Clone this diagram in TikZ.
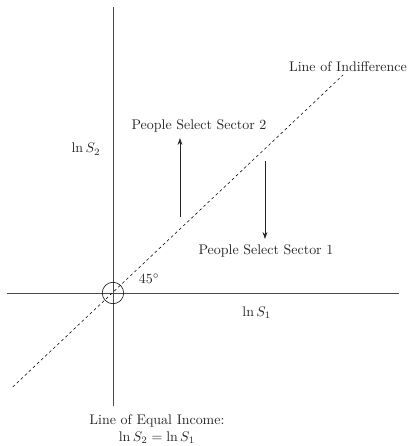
\documentclass[tikz,border=0pt]{standalone}
\usepackage{amsmath}
\usepackage{xcolor}
\definecolor{axisgray}{HTML}{4a4a4a}
\usepackage{tikz}
\usetikzlibrary{arrows.meta, positioning, calc}

\begin{document}
\begin{tikzpicture}[
  axis/.style={semithick, axisgray},
  indiff/.style={dash pattern=on 2pt off 2pt, thin, black},
  move/.style={-{Stealth[length=5pt, width=3.5pt]}, semithick, black!85},
  lbl/.style={inner sep=1pt, align=center, black!85}
]
\useasboundingbox (-2.844, -3.851) rectangle (7.45, 7.375);
% axes
\coordinate (o) at (0, 0);
\coordinate (ytop) at (0, 7.20);
\coordinate (ybot) at (0, -2.844);
\coordinate (xleft) at (-2.668, 0);
\coordinate (xright) at (7.20, 0);
\draw[axis] (ybot) -- (ytop);
\draw[axis] (xleft) -- (xright);
% line of indifference
\coordinate (dlow) at (-2.525, -2.366);
\coordinate (dhigh) at (5.79, 5.487);
\draw[indiff] (dlow) -- (dhigh);
\node[draw, circle, thin, minimum size=0.54cm, inner sep=0pt] (ring) at (o) {};
% movements
\coordinate (up0) at (1.686, 1.913);
\coordinate (up1) at (1.686, 3.90);
\coordinate (dn0) at (3.826, 3.32);
\coordinate (dn1) at (3.826, 1.36);
\draw[move] (up0) -- (up1);
\draw[move] (dn0) -- (dn1);
% labels
\node[lbl] (indlbl) at (5.915, 5.69) {Line of Indifference};
\node[lbl] (sec2) at (2.165, 4.20) {People Select Sector 2};
\node[lbl] (sec1) at (3.85, 1.057) {People Select Sector 1};
\node[lbl] (angle) at (0.906, 0.352) {$45^\circ$};
\node[lbl] (ys) at (-0.68, 3.62) {$\ln S_2$};
\node[lbl] (xs) at (3.62, -0.503) {$\ln S_1$};
\node[lbl] (eqinc) at (1.107, -3.42) {Line of Equal Income:\\$\ln S_2 = \ln S_1$};
\end{tikzpicture}
\end{document}
